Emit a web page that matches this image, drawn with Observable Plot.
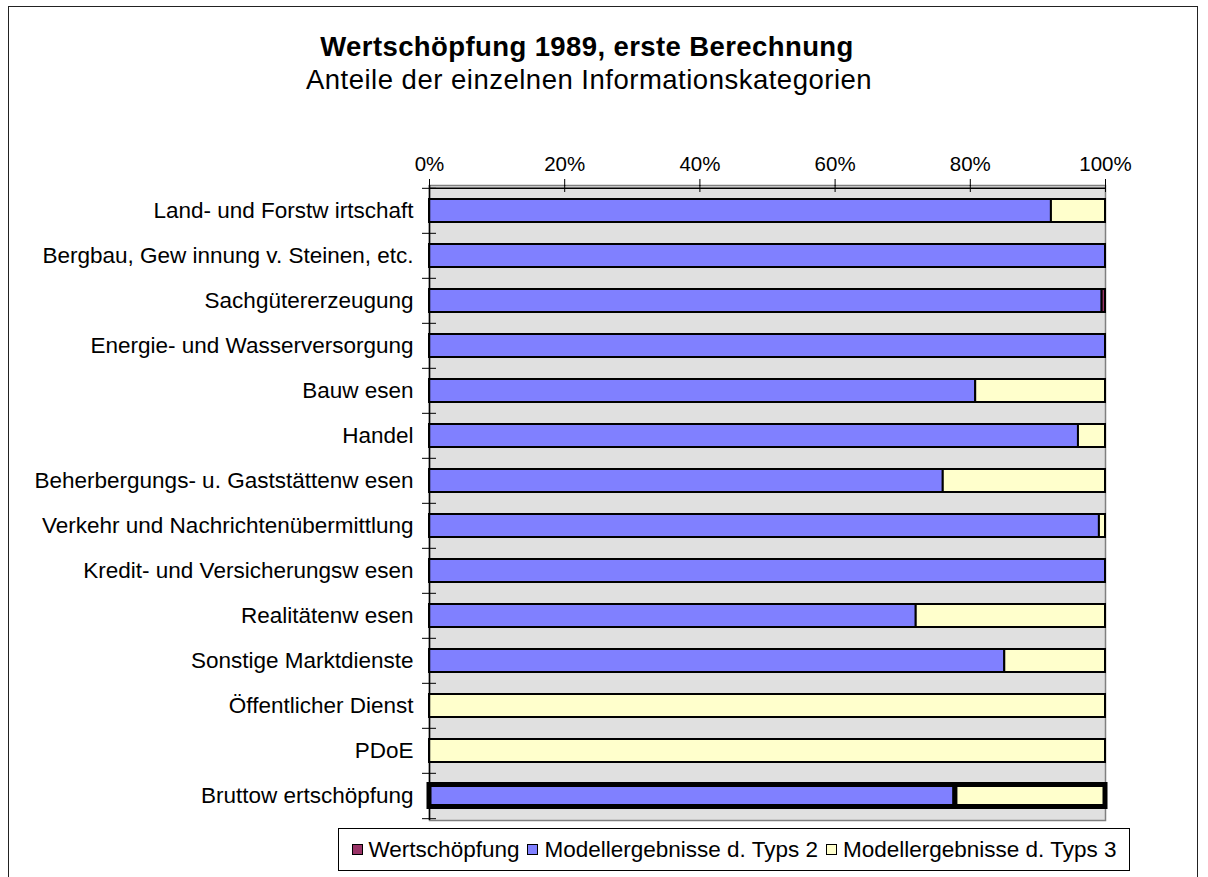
<!DOCTYPE html>
<html>
<head>
<meta charset="utf-8">
<script src="https://cdn.jsdelivr.net/npm/d3@7"></script>
<script src="https://cdn.jsdelivr.net/npm/@observablehq/plot@0.6"></script>
<style>
  html, body { margin: 0; padding: 0; background: #fff; }
  #wrap { position: relative; width: 1208px; height: 877px; overflow: hidden; font-family: "Liberation Sans", Arial, sans-serif; color: #000; }
  #frame { position: absolute; left: 8px; top: 6px; width: 1190px; height: 900px; border: 1px solid #222; box-sizing: border-box; }
  #title { position: absolute; left: 0; top: 31px; width: 1174px; text-align: center; font-size: 27.5px; font-weight: bold; line-height: 32px; letter-spacing: 0.4px; }
  #subtitle { position: absolute; left: 0; top: 64px; width: 1178px; text-align: center; font-size: 27.5px; line-height: 32px; letter-spacing: 0.5px; }
  #chart { position: absolute; left: 0; top: 0; }
  #legend { position: absolute; left: 338px; top: 828px; width: 792px; height: 43px; border: 1px solid #000; box-sizing: border-box; display: flex; align-items: center; justify-content: center; font-size: 22.5px; white-space: nowrap; }
  .item { display: flex; align-items: center; margin: 0 4px; }
  .sw { width: 11px; height: 11px; border: 1.5px solid #000; margin-right: 6px; box-sizing: border-box; }
</style>
</head>
<body>
<div id="wrap">
  <div id="frame"></div>
  <div id="title">Wertschöpfung 1989, erste Berechnung</div>
  <div id="subtitle">Anteile der einzelnen Informationskategorien</div>
  <div id="chart"></div>
  <div id="legend"></div>
</div>
<script>
// ---- data ----
const categories = [
  "Land- und Forstw irtschaft",
  "Bergbau, Gew innung v. Steinen, etc.",
  "Sachgütererzeugung",
  "Energie- und Wasserversorgung",
  "Bauw esen",
  "Handel",
  "Beherbergungs- u. Gaststättenw esen",
  "Verkehr und Nachrichtenübermittlung",
  "Kredit- und Versicherungsw esen",
  "Realitätenw esen",
  "Sonstige Marktdienste",
  "Öffentlicher Dienst",
  "PDoE",
  "Bruttow ertschöpfung"
];
const seriesNames = ["Wertschöpfung", "Modellergebnisse d. Typs 2", "Modellergebnisse d. Typs 3"];
const seriesColors = ["#993366", "#8080FF", "#FFFFCC"];
const wertschoepfung = [0, 0, 0.5, 0, 0, 0, 0, 0, 0, 0, 0, 0, 0, 0];
const typ2 = [92.0, 100, 99.5, 100, 80.8, 96.0, 76.0, 99.1, 100, 72.0, 85.1, 0, 0, 77.8];
const typ3 = [8.0, 0, 0, 0, 19.2, 4.0, 24.0, 0.9, 0, 28.0, 14.9, 100, 100, 22.2];
const xTicks = [0, 20, 40, 60, 80, 100];
const totalRow = "Bruttow ertschöpfung";

// ---- table for Plot (stack order: Typ 2, Wertschöpfung, Typ 3) ----
const rows = [];
categories.forEach((c, i) => {
  [[seriesNames[1], typ2[i]], [seriesNames[0], wertschoepfung[i]], [seriesNames[2], typ3[i]]].forEach(([s, v]) => {
    if (v > 0) rows.push({category: c, series: s, value: v});
  });
});

const W = 1208, H = 877, mL = 429, mR = 103, mT = 185, mB = 57;
const bw = (H - mT - mB) / categories.length;
const plotW = W - mL - mR;

const chart = Plot.plot({
  width: W, height: H,
  marginLeft: mL, marginRight: mR, marginTop: mT, marginBottom: mB,
  style: {fontFamily: "'Liberation Sans', Arial, sans-serif", fontSize: "20px", background: "transparent", color: "#000", overflow: "visible"},
  x: {domain: [0, 100], axis: null},
  y: {domain: categories, padding: 0, axis: null},
  color: {domain: seriesNames, range: seriesColors},
  marks: [
    Plot.frame({fill: "#E0E0E0", stroke: "#808080", strokeWidth: 1.5}),
    // bars
    Plot.barX(rows.filter(d => d.category !== totalRow), Plot.stackX({
      x: "value", y: "category", fill: "series", stroke: "#000", strokeWidth: 2,
      insetTop: 11, insetBottom: 11
    })),
    Plot.barX(rows.filter(d => d.category === totalRow), Plot.stackX({
      x: "value", y: "category", fill: "series", stroke: "#000", strokeWidth: 5,
      insetTop: 11.5, insetBottom: 11.5
    })),
    // left axis line and top axis line
    Plot.ruleX([0], {stroke: "#000", strokeWidth: 1.5}),
    Plot.ruleY([categories[0]], {y: d => d, dy: -bw / 2, stroke: "#000", strokeWidth: 1.5}),
    // category boundary ticks on the left
    Plot.ruleY(categories, {y: d => d, dy: -bw / 2, insetLeft: -7, insetRight: plotW - 7, stroke: "#000"}),
    Plot.ruleY([categories[categories.length - 1]], {y: d => d, dy: bw / 2, insetLeft: -7, insetRight: plotW - 7, stroke: "#000"}),
    // top axis: ticks crossing the axis line
    Plot.axisX({anchor: "top", ticks: xTicks, tickFormat: d => d + "%", tickSize: 7, tickPadding: 8, fontSize: 20.5, label: null}),
    Plot.ruleX(xTicks, {x: d => d, insetBottom: (H - mT - mB) - 7, stroke: "#000"}),
    // category labels
    Plot.axisY({anchor: "left", tickSize: 0, tickPadding: 16, fontSize: 22.5, label: null})
  ]
});
document.getElementById("chart").appendChild(chart);

// legend
const leg = document.getElementById("legend");
seriesNames.forEach((s, i) => {
  const it = document.createElement("div");
  it.className = "item";
  const sw = document.createElement("span");
  sw.className = "sw";
  sw.style.background = seriesColors[i];
  const t = document.createElement("span");
  t.textContent = s;
  it.appendChild(sw); it.appendChild(t);
  leg.appendChild(it);
});
</script>
</body>
</html>
